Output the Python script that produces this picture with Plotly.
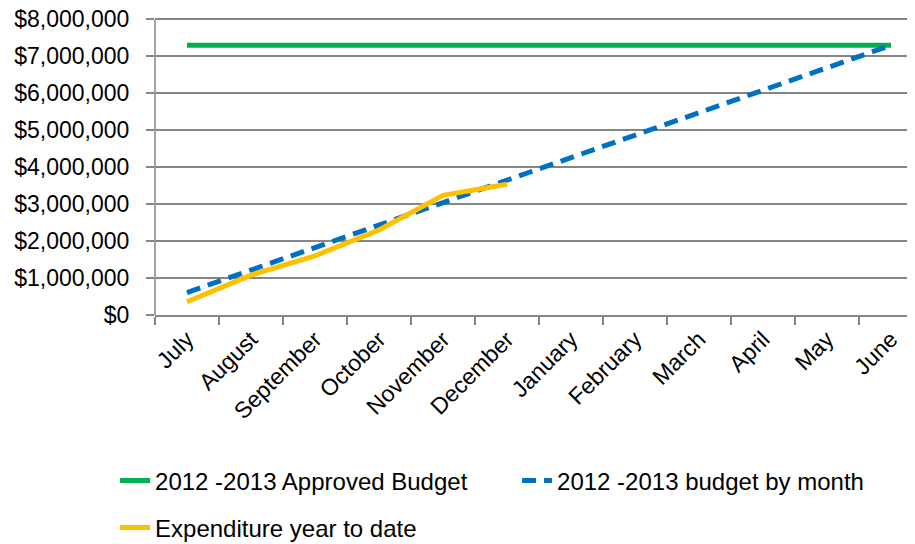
import plotly.graph_objects as go

months = ["July", "August", "September", "October", "November", "December",
          "January", "February", "March", "April", "May", "June"]
approved_budget = [7300000] * 12
budget_by_month = [608333, 1216667, 1825000, 2433333, 3041667, 3650000,
                   4258333, 4866667, 5475000, 6083333, 6691667, 7300000]
expenditure = [360000, 1080000, 1600000, 2300000, 3240000, 3540000]
y_top_tick = 8000000
y_range_max = 8200000

FONT = "Liberation Sans, Arial, sans-serif"

fig = go.Figure()
fig.add_trace(go.Scatter(x=months, y=approved_budget, mode="lines",
                         name="2012 -2013 Approved Budget", legend="legend",
                         line=dict(color="#00B050", width=5)))
fig.add_trace(go.Scatter(x=months, y=budget_by_month, mode="lines",
                         name="2012 -2013 budget by month", legend="legend",
                         line=dict(color="#0070C0", width=5, dash="14px,8px")))
fig.add_trace(go.Scatter(x=months[:len(expenditure)], y=expenditure, mode="lines",
                         name="Expenditure year to date", legend="legend2",
                         line=dict(color="#FFC000", width=5)))

# vertical axis line, only up to the top gridline
fig.add_shape(type="line", xref="paper", yref="y", x0=0, x1=0, y0=0, y1=y_top_tick,
              line=dict(color="#868686", width=1.5), layer="above")

legend_common = dict(orientation="h", xanchor="left", yanchor="middle",
                     font=dict(size=24), bgcolor="rgba(0,0,0,0)",
                     traceorder="normal")

fig.update_layout(
    width=915, height=544,
    margin=dict(l=147, r=0, t=3.6, b=237, autoexpand=False),
    paper_bgcolor="white", plot_bgcolor="white",
    font=dict(family=FONT, size=24, color="#000000"),
    showlegend=True,
    legend=dict(x=-0.052, y=-0.561 * 296 / 303.4, entrywidth=357,
                entrywidthmode="pixels", **legend_common),
    legend2=dict(x=-0.052, y=-0.72 * 296 / 303.4, **legend_common),
    xaxis=dict(type="category", range=[-0.5, 11.5], tickson="boundaries",
               ticks="outside", ticklen=8, tickcolor="#868686", tickwidth=1.5,
               showline=True, linecolor="#868686", linewidth=1.5,
               showgrid=False, tickangle=-45, zeroline=False, automargin=False,
               tickfont=dict(size=23)),
    yaxis=dict(range=[0, y_range_max], tickmode="linear", tick0=0, dtick=1000000,
               tickprefix="$", tickformat=",.0f", ticklabeloverflow="allow",
               ticks="outside", ticklen=8, tickcolor="#868686", tickwidth=1.5,
               showline=False,
               showgrid=True, gridcolor="#868686", gridwidth=1.5, automargin=False,
               zeroline=False, ticklabelstandoff=12, tickfont=dict(size=23)),
)

fig.write_html("out.html")
